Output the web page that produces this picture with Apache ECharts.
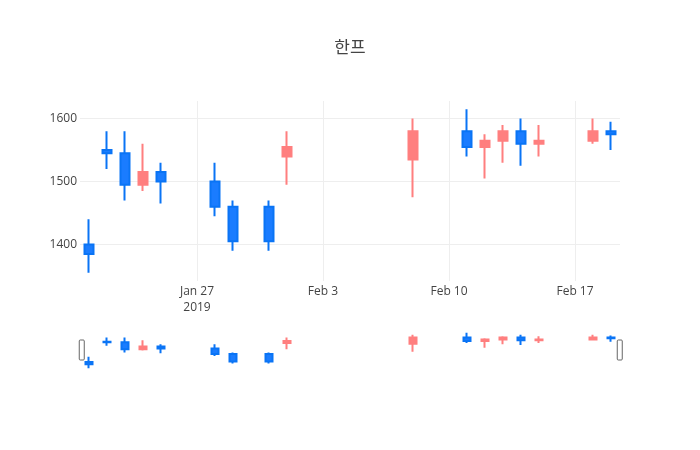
<!DOCTYPE html>
<html>
<head>
<meta charset="utf-8">
<script src="https://cdn.jsdelivr.net/npm/echarts@6/dist/echarts.min.js"></script>
<style>html,body{margin:0;padding:0;background:#fff}#c{width:700px;height:450px}</style>
</head>
<body>
<div id="c"></div>
<script>
const title = '한프';
const dates = ['2019-01-21','2019-01-22','2019-01-23','2019-01-24','2019-01-25','2019-01-28','2019-01-29','2019-01-31','2019-02-01','2019-02-08','2019-02-11','2019-02-12','2019-02-13','2019-02-14','2019-02-15','2019-02-18','2019-02-19'];
const openV  = [1400,1550,1545,1495,1515,1500,1460,1460,1540,1535,1580,1555,1565,1580,1560,1565,1580];
const closeV = [1385,1545,1495,1515,1500,1460,1405,1405,1555,1580,1555,1565,1580,1560,1565,1580,1575];
const lowV   = [1355,1520,1470,1485,1465,1445,1390,1390,1495,1475,1540,1505,1530,1525,1540,1560,1550];
const highV  = [1440,1580,1580,1560,1530,1530,1470,1470,1580,1600,1615,1575,1590,1600,1590,1600,1595];
const xTicks = ['2019-01-27','2019-02-03','2019-02-10','2019-02-17'];
const yTicks = [1400,1500,1600];
const xRange = ['2019-01-20T12:00:00Z','2019-02-19T12:00:00Z'];
const yRange = [1342,1628];

const DAY = 86400000;
const ts = s => Date.parse(s.length === 10 ? s + 'T00:00:00Z' : s) / DAY;
const data = dates.map((d,i)=>[ts(d), openV[i], closeV[i], lowV[i], highV[i]]);
const xTickTs = xTicks.map(ts);
const months = ['Jan','Feb','Mar','Apr','May','Jun','Jul','Aug','Sep','Oct','Nov','Dec'];
const fmt = v => { const d = new Date(v * DAY); let s = months[d.getUTCMonth()] + ' ' + d.getUTCDate(); if (Math.abs(v - xTickTs[0]) < 1e-6) s += '\n' + d.getUTCFullYear(); return s; };

const incColor = '#ff7f7f', decColor = '#1a7cff', decLine = '#0a74f5';
const font = '"Open Sans", sans-serif';
const chart = echarts.init(document.getElementById('c'), null, {renderer:'canvas'});
const candleStyle = { color: incColor, color0: decColor, borderColor: incColor, borderColor0: decLine, borderWidth: 2 };
chart.setOption({
  animation: false,
  backgroundColor: '#fff',
  title: { text: title, left: 'center', top: 33, textStyle: { fontFamily: '"Noto Sans CJK KR", sans-serif', fontSize: 17, fontWeight: 'normal', color: '#444' } },
  grid: [
    { left: 80, right: 80, top: 101, height: 180 },
    { left: 80, right: 80, top: 331, height: 39 }
  ],
  xAxis: [
    { type: 'value', gridIndex: 0, min: ts(xRange[0]), max: ts(xRange[1]),
      axisLine: { show: false }, axisTick: { show: false, customValues: xTickTs },
      axisLabel: { customValues: xTickTs, formatter: fmt, color: '#444', fontFamily: font, fontSize: 12, lineHeight: 16, margin: 3 },
      splitLine: { show: true, lineStyle: { color: '#eee', width: 1 } } },
    { type: 'value', gridIndex: 1, min: ts(xRange[0]), max: ts(xRange[1]), show: false, splitLine: { show: false } }
  ],
  yAxis: [
    { type: 'value', gridIndex: 0, min: yRange[0], max: yRange[1],
      axisLine: { show: false }, axisTick: { show: false, customValues: yTicks },
      axisLabel: { customValues: yTicks, formatter: v => String(v), color: '#444', fontFamily: font, fontSize: 12, margin: 3 },
      splitLine: { show: true, lineStyle: { color: '#eee', width: 1 } } },
    { type: 'value', gridIndex: 1, min: yRange[0], max: yRange[1], show: false, splitLine: { show: false } }
  ],
  dataZoom: [{
    type: 'slider', xAxisIndex: 1, filterMode: 'none', start: 0, end: 100,
    left: 80, right: 80, top: 330, height: 40,
    showDetail: false, showDataShadow: false, brushSelect: false, moveHandleSize: 0,
    backgroundColor: 'rgba(0,0,0,0)', fillerColor: 'rgba(0,0,0,0)', borderColor: 'rgba(0,0,0,0)',
    handleIcon: 'path://M1,0 L4,0 Q5,0 5,1 L5,19 Q5,20 4,20 L1,20 Q0,20 0,19 L0,1 Q0,0 1,0 Z',
    handleSize: 20,
    handleStyle: { color: '#fff', borderColor: '#666', borderWidth: 1 },
    emphasis: { handleStyle: { color: '#fff', borderColor: '#666', borderWidth: 1 } }
  }],
  series: [
    { type: 'candlestick', xAxisIndex: 0, yAxisIndex: 0, data: data, encode: { x: 0, y: [1,2,3,4] }, barWidth: 9, itemStyle: candleStyle },
    { type: 'candlestick', xAxisIndex: 1, yAxisIndex: 1, data: data, encode: { x: 0, y: [1,2,3,4] }, barWidth: 8, itemStyle: candleStyle, silent: true }
  ]
});
</script>
</body>
</html>
